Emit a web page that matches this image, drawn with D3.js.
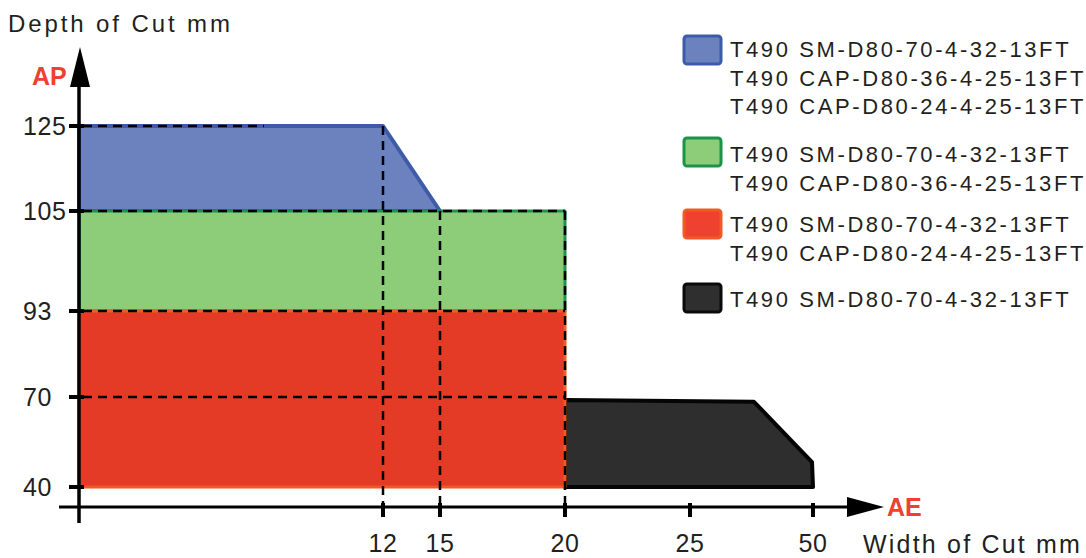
<!DOCTYPE html>
<head>
<meta charset="utf-8">
<title>Depth / width of cut</title>
<script src="https://cdn.jsdelivr.net/npm/d3@7"></script>
<style>
body { margin:0; background:#fff; }
text { font-family: "Liberation Sans", Arial, sans-serif; fill:#231f20; }
</style>
</head>
<body>
<script>
// axis ticks
var aeTicks = [12, 15, 20, 25, 50];
var apTicks = [40, 70, 93, 105, 125];

// cutting areas (AE width, AP depth)
var blueAE  = [0, 12, 15, 0],  blueAP  = [125, 125, 105, 105];
var greenAE = [0, 20, 20, 0],  greenAP = [105, 105, 93, 93];
var redAE   = [0, 20, 20, 0],  redAP   = [93, 93, 40, 40];
var blackAE = [20, 38, 49.8, 50, 20], blackAP = [69, 68.4, 48.3, 40, 40];

// legend
var legendBlue  = ["T490 SM-D80-70-4-32-13FT", "T490 CAP-D80-36-4-25-13FT", "T490 CAP-D80-24-4-25-13FT"];
var legendGreen = ["T490 SM-D80-70-4-32-13FT", "T490 CAP-D80-36-4-25-13FT"];
var legendRed   = ["T490 SM-D80-70-4-32-13FT", "T490 CAP-D80-24-4-25-13FT"];
var legendBlack = ["T490 SM-D80-70-4-32-13FT"];

// dashed guide lines: horizontal [ap, ae end], vertical [ae, ap start]
var hGuides = [[125, 7.3], [105, 20], [93, 20], [70, 20]];
var vGuides = [[12, 125], [15, 105], [20, 105]];

var width = 1086, height = 558;
var svg = d3.select("body").append("svg")
  .attr("width", width).attr("height", height);

// the chart axes are not linear, so use piecewise scales
var x = d3.scaleLinear().domain([0, 12, 15, 20, 25, 50]).range([79, 383, 440, 565, 690, 813]);
var y = d3.scaleLinear().domain([40, 70, 93, 105, 125]).range([487, 397, 311, 211, 126]);
var axisY = 507;

function poly(ae, ap) {
  return ae.map(function(d, i) { return [x(d), y(ap[i])]; });
}
var line = d3.line().curve(d3.curveLinearClosed);

// areas
var areas = [
  {pts: poly(blueAE, blueAP), fill: "#6c82bf", stroke: "#3d5ba9", w: 4},
  {pts: poly(greenAE, greenAP), fill: "#8dcc78", stroke: "#1a9448", w: 3},
  {pts: poly(blackAE, blackAP), fill: "#2e2e2e", stroke: "#050505", w: 4},
  {pts: poly(redAE, redAP), fill: "#e33b26", stroke: "#f05a25", w: 3}
];
svg.selectAll("path.area").data(areas).enter().append("path")
  .attr("class", "area")
  .attr("d", function(d) { return line(d.pts); })
  .attr("fill", function(d) { return d.fill; })
  .attr("stroke", function(d) { return d.stroke; })
  .attr("stroke-width", function(d) { return d.w; })
  .attr("stroke-linejoin", "round");

// dashed guides
svg.selectAll("line.hg").data(hGuides).enter().append("line")
  .attr("x1", x(0) + 4).attr("x2", function(d) { return x(d[1]); })
  .attr("y1", function(d) { return y(d[0]); }).attr("y2", function(d) { return y(d[0]); })
  .attr("stroke", "#000").attr("stroke-width", 2.5).attr("stroke-dasharray", "9,6");
svg.selectAll("line.vg").data(vGuides).enter().append("line")
  .attr("x1", function(d) { return x(d[0]); }).attr("x2", function(d) { return x(d[0]); })
  .attr("y1", function(d) { return y(d[1]); }).attr("y2", axisY + 10)
  .attr("stroke", "#000").attr("stroke-width", 2.5).attr("stroke-dasharray", "9,6");

// axes
svg.append("line").attr("x1", x(0)).attr("x2", x(0)).attr("y1", 523).attr("y2", 80)
  .attr("stroke", "#000").attr("stroke-width", 3.5);
svg.append("path").attr("d", "M80,47 L70,87 L90,87 Z").attr("fill", "#000");
svg.append("line").attr("x1", 59).attr("x2", 850).attr("y1", axisY).attr("y2", axisY)
  .attr("stroke", "#000").attr("stroke-width", 3);
svg.append("path").attr("d", "M847,497 L884,507 L847,517 Z").attr("fill", "#000");

// ticks
svg.selectAll("line.yt").data(apTicks).enter().append("line")
  .attr("x1", 69).attr("x2", 84)
  .attr("y1", function(d) { return y(d); }).attr("y2", function(d) { return y(d); })
  .attr("stroke", "#000").attr("stroke-width", 4);
svg.selectAll("text.yt").data(apTicks).enter().append("text")
  .attr("x", 23).attr("y", function(d) { return y(d) + 9; })
  .style("font-size", "25px").style("letter-spacing", "0.6px")
  .text(function(d) { return d; });
svg.selectAll("line.xt").data(aeTicks).enter().append("line")
  .attr("x1", function(d) { return x(d); }).attr("x2", function(d) { return x(d); })
  .attr("y1", axisY - 4).attr("y2", axisY + 10)
  .attr("stroke", "#000").attr("stroke-width", 4);
svg.selectAll("text.xt").data(aeTicks).enter().append("text")
  .attr("x", function(d) { return x(d); }).attr("y", 552)
  .attr("text-anchor", "middle")
  .style("font-size", "25px").style("letter-spacing", "0.5px")
  .text(function(d) { return d; });

// axis titles
svg.append("text").attr("x", 8).attr("y", 32)
  .style("font-size", "24px").style("letter-spacing", "2.9px").text("Depth of Cut mm");
svg.append("text").attr("x", 32).attr("y", 85)
  .style("font-size", "25px").style("font-weight", "bold").style("fill", "#ee4130").text("AP");
svg.append("text").attr("x", 887).attr("y", 516)
  .style("font-size", "25px").style("font-weight", "bold").style("fill", "#ee4130").text("AE");
svg.append("text").attr("x", 863).attr("y", 553)
  .style("font-size", "25px").style("letter-spacing", "2.2px").text("Width of Cut mm");

// legend
var legend = [
  {lines: legendBlue,  fill: "#6c82bf", stroke: "#3d5ba9", top: 36,  base: 57},
  {lines: legendGreen, fill: "#8dcc78", stroke: "#1a9448", top: 138, base: 162},
  {lines: legendRed,   fill: "#ee4130", stroke: "#f05a25", top: 210, base: 232},
  {lines: legendBlack, fill: "#2f2f2f", stroke: "#0a0a0a", top: 284, base: 307}
];
var lg = svg.selectAll("g.lg").data(legend).enter().append("g");
lg.append("rect")
  .attr("x", 684).attr("y", function(d) { return d.top; })
  .attr("width", 37).attr("height", 28).attr("rx", 3)
  .attr("fill", function(d) { return d.fill; })
  .attr("stroke", function(d) { return d.stroke; }).attr("stroke-width", 3);
lg.each(function(d) {
  d3.select(this).selectAll("text").data(d.lines).enter().append("text")
    .attr("x", 730).attr("y", function(t, i) { return d.base + i * 28.5; })
    .style("font-size", "22px").style("letter-spacing", "2.6px")
    .text(function(t) { return t; });
});
</script>
</body>
